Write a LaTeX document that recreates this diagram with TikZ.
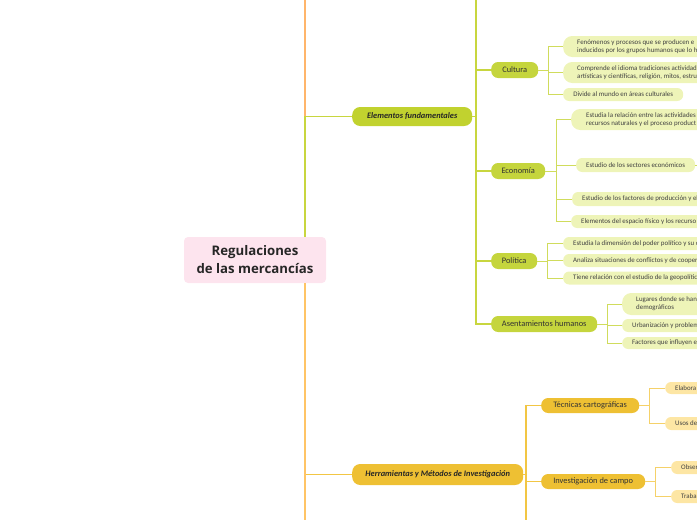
\documentclass[tikz,border=0pt]{standalone}
\usepackage{fontspec}
\setmainfont{Carlito}
\newfontfamily\rootfont{Open Sans}
\definecolor{rootpink}{HTML}{FDE4EE}
\definecolor{grnmain}{HTML}{C1D22F}
\definecolor{grnsub}{HTML}{C5D53D}
\definecolor{grnleaf}{HTML}{EEF4B8}
\definecolor{grnline}{HTML}{C8D63F}
\definecolor{ylwmain}{HTML}{EEC033}
\definecolor{ylwleaf}{HTML}{FDE6A4}
\definecolor{ylwline}{HTML}{F2C644}
\definecolor{orgtop}{HTML}{FFB56B}
\definecolor{orgbot}{HTML}{FFC466}
\tikzset{
    rootbox/.style={fill=rootpink,rounded corners=4pt,minimum width=142pt,minimum height=46pt,
        align=center,font=\rootfont\bfseries\fontsize{13.2}{18}\selectfont,text=black!85},
    topic/.style={anchor=west,rounded corners=8pt,inner sep=0pt,
        font=\bfseries\itshape\fontsize{8.4}{10}\selectfont,text=black!85},
    subtopic/.style={anchor=west,rounded corners=7pt,inner sep=0pt,minimum height=16pt,
        font=\fontsize{8.4}{10}\selectfont,text=black!80},
    leaf/.style={anchor=west,rounded corners=6pt,inner xsep=10pt,inner ysep=0pt,
        align=flush left,font=\fontsize{6.9}{8}\selectfont,text=black!75},
    cutleaf/.style={leaf,text width=190pt},
    gmain/.style={draw=grnline,line width=1.5pt},
    gleaf/.style={draw=grnline!85,line width=1pt},
    ymain/.style={draw=ylwline,line width=1.5pt},
    yleaf/.style={draw=ylwline!80,line width=1pt}
}
\begin{document}
\begin{tikzpicture}[x=1pt,y=-1pt]
    \useasboundingbox (0,0) rectangle (697,520);
    \clip (0,0) rectangle (697,520);
    % central topic
    \node[rootbox] (root) at (255,260) {Regulaciones\\de las mercanc\'ias};
    \coordinate (rtop) at (305,0);
    \coordinate (rbot) at (305,520);
    % main branches
    \node[topic,fill=grnmain,minimum width=120pt,minimum height=19pt] (elem) at (352,116.5) {Elementos fundamentales};
    \node[topic,fill=ylwmain,minimum width=171pt,minimum height=21pt] (herr) at (352,474.5) {Herramientas y M\'etodos de Investigaci\'on};
    \draw[draw=orgtop,line width=1.5pt] (root.north -| rtop) -- (rtop);
    \draw[gmain] (root.north -| rtop) |- (elem.west);
    \draw[ymain] (root.south -| rbot) |- (herr.west);
    \draw[draw=orgbot,line width=1.5pt] (root.south -| rbot) -- (rbot);
    % Elementos fundamentales
    \node[subtopic,fill=grnsub,minimum width=47pt] (cul) at (491,70) {Cultura};
    \node[subtopic,fill=grnsub,minimum width=54pt] (eco) at (491,171) {Econom\'ia};
    \node[subtopic,fill=grnsub,minimum width=46pt] (pol) at (491,261) {Pol\'itica};
    \node[subtopic,fill=grnsub,minimum width=106pt] (ase) at (491,324) {Asentamientos humanos};
    \coordinate (elj) at (476,116.5);
    \coordinate (eltop) at (476,0);
    \draw[gmain] (elem.east) -- (elj) -- (eltop);
    \foreach \n in {cul,eco,pol,ase}
        \draw[gmain] (elj) |- (\n.west);
    % Cultura
    \node[cutleaf,fill=grnleaf,minimum height=21pt,rounded corners=9pt,inner xsep=14pt] (cul1) at (563,46.5)
        {Fen\'omenos y procesos que se producen e\\inducidos por los grupos humanos que lo h};
    \node[cutleaf,fill=grnleaf,minimum height=21pt,rounded corners=9pt,inner xsep=14pt] (cul2) at (563,72.5)
        {Comprende el idioma tradiciones actividad\\art\'isticas y cient\'ificas, religi\'on, mitos, estru};
    \node[leaf,fill=grnleaf,minimum height=13pt,minimum width=120pt] (cul3) at (563,94.5) {Divide al mundo en \'areas culturales};
    \coordinate (culj) at (548,70);
    \draw[gleaf] (cul.east) -- (culj);
    \foreach \n in {cul1,cul2,cul3}
        \draw[gleaf] (culj) |- (\n.west);
    % Economia
    \node[cutleaf,fill=grnleaf,minimum height=21pt,rounded corners=9pt,inner xsep=15pt] (eco1) at (571,119.5)
        {Estudia la relaci\'on entre las actividades\\recursos naturales y el proceso product};
    \node[leaf,fill=grnleaf,minimum height=14pt,minimum width=114pt] (eco2) at (576,165) {Estudio de los sectores econ\'omicos};
    \node[cutleaf,fill=grnleaf,minimum height=14pt] (eco3) at (572,199) {Estudio de los factores de producci\'on y el};
    \node[cutleaf,fill=grnleaf,minimum height=13pt] (eco4) at (571,221.5) {Elementos del espacio f\'isico y los recurso};
    \coordinate (ecoj) at (556,171);
    \coordinate (ecor) at (697,165);
    \draw[gleaf] (eco.east) -- (ecoj);
    \foreach \n in {eco1,eco2,eco3,eco4}
        \draw[gleaf] (ecoj) |- (\n.west);
    \draw[gleaf] (eco2.east) -- (ecor);
    % Politica
    \node[cutleaf,fill=grnleaf,minimum height=13pt] (pol1) at (563,243.5) {Estudia la dimensi\'on del poder pol\'itico y su o};
    \node[cutleaf,fill=grnleaf,minimum height=13pt] (pol2) at (563,260.5) {Analiza situaciones de conflictos y de cooper};
    \node[cutleaf,fill=grnleaf,minimum height=13pt] (pol3) at (563,278) {Tiene relaci\'on con el estudio de la geopol\'itica};
    \coordinate (polj) at (547,261);
    \draw[gleaf] (pol.east) -- (polj);
    \foreach \n in {pol1,pol2,pol3}
        \draw[gleaf] (polj) |- (\n.west);
    % Asentamientos humanos
    \node[cutleaf,fill=grnleaf,minimum height=22pt,rounded corners=9pt,inner xsep=14pt] (ase1) at (622,304)
        {Lugares donde se han\\demogr\'aficos};
    \node[cutleaf,fill=grnleaf,minimum height=13pt] (ase2) at (622,325.5) {Urbanizaci\'on y problem};
    \node[cutleaf,fill=grnleaf,minimum height=12pt] (ase3) at (622,343) {Factores que influyen e};
    \coordinate (asej) at (607,324);
    \draw[gleaf] (ase.east) -- (asej);
    \foreach \n in {ase1,ase2,ase3}
        \draw[gleaf] (asej) |- (\n.west);
    % Herramientas y Metodos de Investigacion
    \node[subtopic,fill=ylwmain,minimum width=98pt,minimum height=15pt] (tec) at (541,405.5) {T\'ecnicas cartogr\'aficas};
    \node[subtopic,fill=ylwmain,minimum width=104pt,minimum height=15pt] (inv) at (541,481.5) {Investigaci\'on de campo};
    \coordinate (herj) at (526,474.5);
    \coordinate (herbot) at (526,520);
    \draw[ymain] (herr.east) -- (herj);
    \draw[ymain] (herj) |- (tec.west);
    \draw[ymain] (herj) |- (inv.west);
    \draw[ymain] (herj) -- (herbot);
    \node[cutleaf,fill=ylwleaf,minimum height=12pt] (tec1) at (665,388) {Elabora};
    \node[cutleaf,fill=ylwleaf,minimum height=13pt] (tec2) at (665,423.5) {Usos de};
    \node[cutleaf,fill=ylwleaf,minimum height=13pt] (inv1) at (671,467.5) {Obser};
    \node[cutleaf,fill=ylwleaf,minimum height=13pt] (inv2) at (671,496.5) {Traba};
    \coordinate (tecj) at (649,405.5);
    \coordinate (invj) at (655,481.5);
    \draw[yleaf] (tec.east) -- (tecj);
    \draw[yleaf] (inv.east) -- (invj);
    \foreach \n in {tec1,tec2}
        \draw[yleaf] (tecj) |- (\n.west);
    \foreach \n in {inv1,inv2}
        \draw[yleaf] (invj) |- (\n.west);
\end{tikzpicture}
\end{document}
